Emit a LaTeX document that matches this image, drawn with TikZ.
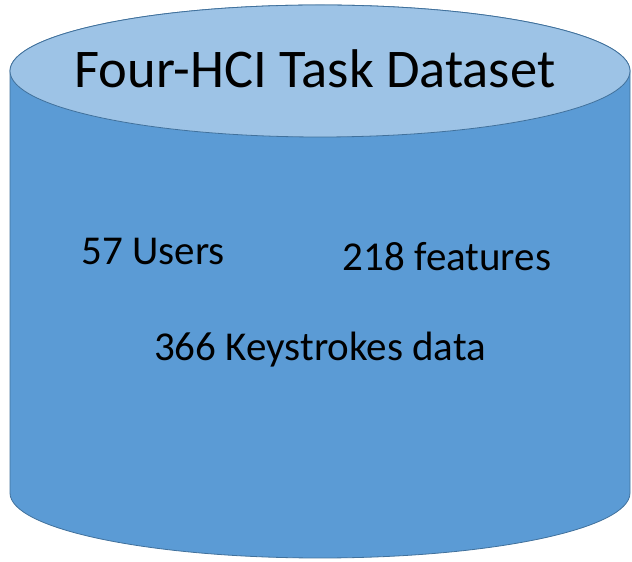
\documentclass[tikz,border=0pt]{standalone}
\usepackage{fontspec}
\setmainfont{Carlito}
\definecolor{bodyblue}{HTML}{5B9BD5}
\definecolor{topblue}{HTML}{9DC3E6}
\definecolor{edgeblue}{HTML}{41719C}
\begin{document}
\begin{tikzpicture}[x=1pt,y=1pt,
  shell/.style={draw=edgeblue,line width=0.8pt},
  bigtext/.style={font=\fontsize{54.5}{58}\selectfont,anchor=base,inner sep=0pt},
  infotext/.style={font=\fontsize{41}{45}\selectfont,anchor=base,inner sep=0pt}]
  \useasboundingbox (0,0) rectangle (632,562);
  % cylinder body
  \path[shell,fill=bodyblue] (10,491) -- (10,69)
    arc[start angle=180,end angle=360,x radius=310,y radius=65]
    -- (630,491)
    arc[start angle=0,end angle=180,x radius=310,y radius=66] -- cycle;
  % cylinder lid
  \path[shell,fill=topblue] (320,491) ellipse[x radius=310,y radius=66];
  % labels
  \node[bigtext] (title) at (315,474) {Four-HCI Task Dataset};
  \node[infotext] (users) at (153,297) {57 Users};
  \node[infotext] (feat) at (447,291) {218 features};
  \node[infotext] (keys) at (320,201) {366 Keystrokes data};
\end{tikzpicture}
\end{document}
